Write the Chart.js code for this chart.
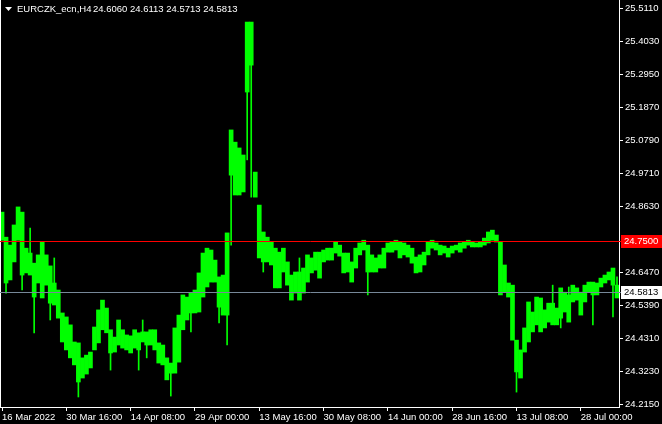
<!DOCTYPE html>
<html>
<head>
<meta charset="utf-8">
<script src="https://cdn.jsdelivr.net/npm/chart.js@4.4.0/dist/chart.umd.min.js"></script>
<style>
    html, body { margin: 0; padding: 0; background: #000; }
    #wrap { width: 662px; height: 424px; }
</style>
</head>
<body>
<div id="wrap"><canvas id="priceChart" width="662" height="424"></canvas></div>
<script>
const symbolName = 'EURCZK_ecn,H4';
const lastBar = [24.6060, 24.6113, 24.5713, 24.5813]; // open, high, low, close
const askLevel = 24.75;
const bidLevel = lastBar[3];

const yTicks = [25.511, 25.403, 25.295, 25.187, 25.079, 24.971, 24.863, 24.647, 24.539, 24.431, 24.323, 24.215];
const dateLabels = ['16 Mar 2022', '30 Mar 16:00', '14 Apr 08:00', '29 Apr 00:00', '13 May 16:00',
    '30 May 08:00', '14 Jun 00:00', '28 Jun 16:00', '13 Jul 08:00', '28 Jul 00:00'];
const barsPerLabel = 16;

// dense high / low range of each group of H4 bars
const highs = [
    24.843, 24.761, 24.735, 24.801, 24.860, 24.843, 24.725, 24.709, 24.676, 24.703,
    24.745, 24.703, 24.667, 24.611, 24.588, 24.513, 24.500, 24.474, 24.418, 24.415,
    24.366, 24.375, 24.385, 24.467, 24.523, 24.555, 24.529, 24.458, 24.434, 24.490,
    24.458, 24.441, 24.438, 24.458, 24.448, 24.451, 24.451, 24.458, 24.458, 24.415,
    24.408, 24.366, 24.349, 24.464, 24.506, 24.572, 24.565, 24.578, 24.588, 24.644,
    24.709, 24.725, 24.719, 24.686, 24.631, 24.637, 24.775, 25.112, 25.072, 25.053,
    25.030, 25.465, 25.465, 24.974, 24.866, 24.778, 24.761, 24.745, 24.725, 24.712,
    24.725, 24.680, 24.637, 24.647, 24.647, 24.660, 24.703, 24.693, 24.712, 24.712,
    24.719, 24.725, 24.725, 24.745, 24.735, 24.709, 24.709, 24.680, 24.725, 24.742,
    24.751, 24.735, 24.703, 24.693, 24.703, 24.725, 24.742, 24.745, 24.751, 24.745,
    24.742, 24.735, 24.725, 24.696, 24.703, 24.712, 24.745, 24.751, 24.742, 24.735,
    24.732, 24.725, 24.732, 24.735, 24.742, 24.745, 24.751, 24.745, 24.742, 24.745,
    24.758, 24.778, 24.784, 24.768, 24.745, 24.670, 24.611, 24.604, 24.424, 24.392,
    24.464, 24.549, 24.516, 24.565, 24.562, 24.523, 24.545, 24.545, 24.529, 24.595,
    24.581, 24.572, 24.604, 24.595, 24.581, 24.604, 24.614, 24.614, 24.611, 24.627,
    24.637, 24.647, 24.660, 24.604
];
const lows = [
    24.751, 24.611, 24.621, 24.680, 24.751, 24.637, 24.644, 24.637, 24.565, 24.611,
    24.562, 24.604, 24.545, 24.539, 24.496, 24.418, 24.392, 24.366, 24.343, 24.287,
    24.300, 24.313, 24.333, 24.392, 24.415, 24.458, 24.448, 24.382, 24.385, 24.408,
    24.398, 24.392, 24.382, 24.398, 24.392, 24.418, 24.408, 24.408, 24.392, 24.349,
    24.343, 24.294, 24.316, 24.316, 24.352, 24.458, 24.490, 24.513, 24.513, 24.516,
    24.565, 24.598, 24.614, 24.614, 24.532, 24.506, 24.506, 24.964, 24.899, 24.899,
    24.909, 25.236, 25.324, 24.892, 24.693, 24.680, 24.680, 24.670, 24.595, 24.595,
    24.647, 24.604, 24.555, 24.578, 24.555, 24.578, 24.614, 24.644, 24.653, 24.627,
    24.680, 24.686, 24.686, 24.709, 24.699, 24.644, 24.647, 24.614, 24.660, 24.703,
    24.719, 24.647, 24.647, 24.647, 24.660, 24.660, 24.712, 24.712, 24.719, 24.693,
    24.703, 24.696, 24.676, 24.644, 24.647, 24.670, 24.703, 24.725, 24.719, 24.703,
    24.709, 24.696, 24.709, 24.719, 24.712, 24.725, 24.735, 24.729, 24.729, 24.729,
    24.735, 24.742, 24.751, 24.745, 24.572, 24.581, 24.565, 24.424, 24.320, 24.300,
    24.385, 24.418, 24.451, 24.474, 24.451, 24.464, 24.483, 24.474, 24.474, 24.496,
    24.516, 24.483, 24.549, 24.555, 24.506, 24.549, 24.581, 24.572, 24.572, 24.598,
    24.611, 24.621, 24.604, 24.562
];

// single thin wicks sticking out of a group: group index and the price they reach
const spikeGroups = [1, 5, 7, 8, 12, 13, 19, 27, 34, 35, 36, 42, 47, 54,
    56, 57, 61, 62, 65, 74, 91, 128, 137, 139, 141, 147, 152, 153];
const spikeEnds = [24.578, 24.588, 24.791, 24.448, 24.490, 24.693, 24.238, 24.326, 24.326, 24.490, 24.366, 24.241, 24.451, 24.480,
    24.408, 24.735, 25.014, 24.892, 24.647, 24.693, 24.572, 24.254, 24.604, 24.464, 24.598, 24.474, 24.500, 24.631];

const spikeData = highs.map(() => null);
spikeGroups.forEach((g, i) => {
    const end = spikeEnds[i];
    spikeData[g] = end > highs[g] ? [highs[g], end] : [end, lows[g]];
});

const FONT = { family: '"Liberation Sans", Arial, sans-serif', size: 9.5 };
const FONT_CSS = '9.5px "Liberation Sans", Arial, sans-serif';

const overlayPlugin = {
    id: 'mtOverlay',
    afterDatasetsDraw(chart) {
        const { ctx, chartArea, scales: { y } } = chart;
        ctx.save();
        // left frame line
        ctx.strokeStyle = '#ffffff';
        ctx.lineWidth = 1;
        ctx.beginPath();
        ctx.moveTo(0.5, chartArea.top);
        ctx.lineTo(0.5, chartArea.bottom);
        ctx.stroke();

        const levels = [
            { value: askLevel, line: '#ff0000' },
            { value: bidLevel, line: '#778899' }
        ];
        levels.forEach(lv => {
            const py = Math.round(y.getPixelForValue(lv.value)) + 0.5;
            ctx.strokeStyle = lv.line;
            ctx.beginPath();
            ctx.moveTo(chartArea.left, py);
            ctx.lineTo(chartArea.right + 2, py);
            ctx.stroke();
        });
        ctx.restore();
    },
    afterDraw(chart) {
        const { ctx, chartArea, scales: { y } } = chart;
        ctx.save();
        ctx.font = FONT_CSS;
        ctx.textBaseline = 'middle';

        const boxes = [
            { value: askLevel, bg: '#ff0000', fg: '#ffffff' },
            { value: bidLevel, bg: '#ffffff', fg: '#000000' }
        ];
        boxes.forEach(b => {
            const py = Math.round(y.getPixelForValue(b.value));
            ctx.fillStyle = b.bg;
            ctx.fillRect(chartArea.right + 2, py - 6, chart.width - chartArea.right - 2, 13);
            ctx.fillStyle = b.fg;
            ctx.textAlign = 'left';
            ctx.fillText(b.value.toFixed(4), chartArea.right + 5, py + 0.5);
        });

        // symbol header
        ctx.fillStyle = '#ffffff';
        ctx.beginPath();
        ctx.moveTo(5, 7);
        ctx.lineTo(12, 7);
        ctx.lineTo(8.5, 11);
        ctx.closePath();
        ctx.fill();
        ctx.fillText(symbolName, 17, 9);
        ctx.fillText(lastBar.map(v => v.toFixed(4)).join(' '), 93, 9);
        ctx.restore();
    }
};

new Chart(document.getElementById('priceChart'), {
    type: 'bar',
    data: {
        labels: highs.map((_, i) => i),
        datasets: [{
            data: highs.map((h, i) => [lows[i], h]),
            backgroundColor: '#00ff00',
            borderWidth: 0,
            barPercentage: 1,
            categoryPercentage: 1,
            grouped: false
        }, {
            data: spikeData,
            backgroundColor: '#00ff00',
            borderWidth: 0,
            barThickness: 1,
            grouped: false
        }]
    },
    options: {
        responsive: false,
        animation: false,
        devicePixelRatio: 1,
        layout: { padding: 0 },
        plugins: {
            legend: { display: false },
            tooltip: { enabled: false }
        },
        scales: {
            x: {
                grid: {
                    display: true,
                    drawOnChartArea: false,
                    drawTicks: true,
                    tickLength: 4,
                    color: '#ffffff',
                    offset: false
                },
                border: { display: true, color: '#ffffff', width: 1 },
                ticks: {
                    color: '#ffffff',
                    font: FONT,
                    autoSkip: false,
                    maxRotation: 0,
                    align: 'start',
                    padding: 1,
                    callback: value => dateLabels[value / barsPerLabel]
                },
                afterBuildTicks: scale => {
                    scale.ticks = scale.ticks.filter(t => t.value % barsPerLabel === 0);
                },
                afterFit: scale => {
                    scale.height = 17;
                    scale.paddingLeft = 0;
                    scale.paddingRight = 0;
                }
            },
            y: {
                position: 'right',
                min: 24.2052,
                max: 25.5372,
                grid: {
                    display: true,
                    drawOnChartArea: false,
                    drawTicks: true,
                    tickLength: 4,
                    color: '#ffffff'
                },
                border: { display: true, color: '#ffffff', width: 1 },
                ticks: {
                    color: '#ffffff',
                    font: FONT,
                    padding: 2,
                    callback: value => value.toFixed(4)
                },
                afterBuildTicks: scale => {
                    scale.ticks = yTicks.map(v => ({ value: v }));
                },
                afterFit: scale => {
                    scale.width = 43;
                    scale.paddingTop = 0;
                    scale.paddingBottom = 0;
                }
            }
        }
    },
    plugins: [overlayPlugin]
});
</script>
</body>
</html>
